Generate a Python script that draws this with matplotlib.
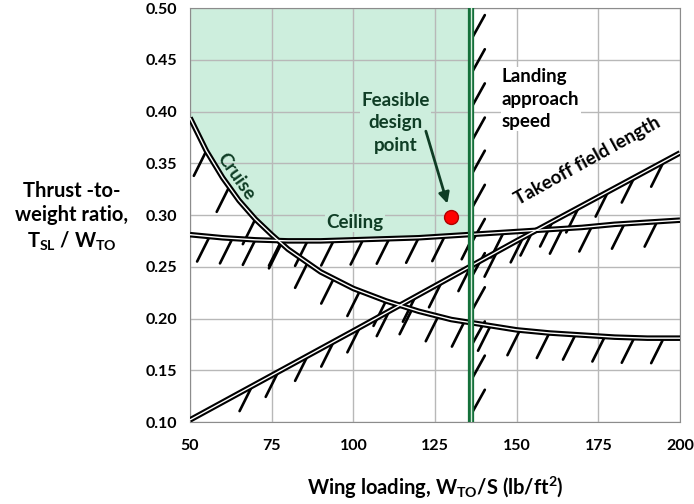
import matplotlib
matplotlib.use('Agg')
import matplotlib.pyplot as plt
import numpy as np

plt.rcParams['font.family'] = ['Lato', 'DejaVu Sans']
plt.rcParams['font.weight'] = 'bold'
plt.rcParams['axes.labelweight'] = 'bold'
plt.rcParams['mathtext.fontset'] = 'custom'
plt.rcParams['mathtext.rm'] = 'Lato:bold'
plt.rcParams['mathtext.bf'] = 'Lato:bold'

# constraint curves
wing_loading = [50, 55, 60, 65, 70, 75, 80, 90, 100, 110, 120, 130, 140, 150, 160, 170, 180, 190, 200]
cruise = [0.394, 0.362, 0.336, 0.314, 0.296, 0.281, 0.267, 0.245, 0.229, 0.217, 0.207, 0.199,
          0.194, 0.189, 0.186, 0.184, 0.182, 0.181, 0.181]

ceiling_x = [50, 60, 70, 80, 90, 100, 110, 120, 130, 140, 150, 160, 170, 180, 190, 200]
ceiling = [0.281, 0.278, 0.276, 0.275, 0.275, 0.276, 0.277, 0.278, 0.280, 0.282, 0.284, 0.286,
           0.288, 0.291, 0.293, 0.295]

takeoff_x = [50, 100, 150, 200]
takeoff = [0.102, 0.188, 0.275, 0.360]

landing_ws = 136

design_point = (130, 0.298)

# hatch positions along each constraint
cruise_hatch = [55, 62, 70, 78, 86, 94, 102, 110, 118, 126, 134, 142, 151, 160, 168, 177, 186, 195]
ceiling_hatch = [56, 63, 70, 78, 86, 94, 103, 111, 120, 128, 137, 146, 155, 164, 173, 183, 193]
takeoff_hatch = [69, 77, 86, 94, 102, 111, 119, 127, 136, 144, 152, 161, 169, 178, 186, 195]
landing_hatch = [0.469, 0.436, 0.403, 0.370, 0.338, 0.305, 0.272, 0.239, 0.206, 0.173, 0.140, 0.107]

dark_green = '#0f3d25'
fill_green = '#cdeedd'

fig = plt.figure(figsize=(6.94, 5.04), dpi=100)
ax = fig.add_axes([190/694, 1-422/504, 490/694, 414/504])

ax.set_xlim(50, 200)
ax.set_ylim(0.10, 0.50)
ax.set_xticks(np.arange(50, 201, 25))
ax.set_yticks(np.arange(0.10, 0.501, 0.05))
ax.yaxis.set_major_formatter(matplotlib.ticker.FormatStrFormatter('%.2f'))
ax.tick_params(length=0, labelsize=11.5, pad=9)
ax.tick_params(axis='x', pad=12)
for lab in ax.get_xticklabels() + ax.get_yticklabels():
    lab.set_fontweight('bold')
ax.set_axisbelow(True)
ax.grid(color='#b8b8b8', lw=1)
for s in ax.spines.values():
    s.set_color('#8c8c8c')

# feasible region
xs = np.array([x for x in wing_loading if x < landing_ws] + [landing_ws])
lower = np.maximum(np.interp(xs, wing_loading, cruise), np.interp(xs, ceiling_x, ceiling))
ax.fill_between(xs, lower, 0.5, color=fill_green, zorder=0.2, lw=0)


def double_line(x, y):
    ax.plot(x, y, color='black', lw=4, solid_capstyle='butt', zorder=3)
    ax.plot(x, y, color='white', lw=1, solid_capstyle='butt', zorder=3.1)


def hatch(x, y, dx, dy):
    a = ax.annotate('', xy=(x, y), xytext=(dx, dy), textcoords='offset points',
                    arrowprops=dict(arrowstyle='-', lw=1.9, color='black', shrinkA=0, shrinkB=0),
                    zorder=2)
    a.arrow_patch.set_clip_on(True)
    a.arrow_patch.set_clip_box(ax.bbox)


for xh in cruise_hatch:
    hatch(xh, np.interp(xh, wing_loading, cruise), -9, -18)
for xh in ceiling_hatch:
    hatch(xh, np.interp(xh, ceiling_x, ceiling), -9, -18)
for xh in takeoff_hatch:
    hatch(xh, np.interp(xh, takeoff_x, takeoff), -9, -18)
for yh in landing_hatch:
    hatch(landing_ws, yh, 10, 18)

double_line(wing_loading, cruise)
double_line(ceiling_x, ceiling)
double_line(takeoff_x, takeoff)

ax.axvline(landing_ws, color='#14703a', lw=4.5, zorder=4)
ax.axvline(landing_ws, color='#d8eedd', lw=1, zorder=4.1)

ax.plot(*design_point, 'o', color='#ff0000', mec='#b00000', mew=1, ms=10, zorder=5)
ax.annotate('', xy=(128.8, 0.311), xytext=(122.2, 0.381),
            arrowprops=dict(arrowstyle='-|>', color=dark_green, lw=2, mutation_scale=16,
                            shrinkA=0, shrinkB=0), zorder=5)

ax.text(113, 0.389, 'Feasible\ndesign\npoint', color=dark_green, fontsize=13.5, ha='center', va='center',
        linespacing=1.4, bbox=dict(fc=fill_green, ec='none', pad=1), zorder=4)
ax.text(100.5, 0.293, 'Ceiling', color=dark_green, fontsize=13.5, ha='center', va='center',
        bbox=dict(fc=fill_green, ec='none', pad=1), zorder=4)
ax.text(64, 0.337, 'Cruise', color=dark_green, fontsize=13.5, ha='center', va='center', rotation=-55,
        zorder=4)
ax.text(145.5, 0.412, 'Landing\napproach\nspeed', color='black', fontsize=13.5, ha='left', va='center',
        linespacing=1.4, bbox=dict(fc='white', ec='none', pad=1), zorder=4)
ax.text(171.8, 0.352, 'Takeoff field length', color='black', fontsize=13.5, ha='center', va='center',
        rotation=29, zorder=4)

ax.set_xlabel('Wing loading, W$_{\\mathbf{TO}}$/S (lb/ft$^{\\mathbf{2}}$)', fontsize=14.5, labelpad=16)
fig.text(72/694, 1-217/504, 'Thrust -to-\nweight ratio,\nT$_{\\mathbf{SL}}$ / W$_{\\mathbf{TO}}$',
         fontsize=14.5, ha='center', va='center', multialignment='center', linespacing=1.25)

fig.savefig('out.png', dpi=100)
